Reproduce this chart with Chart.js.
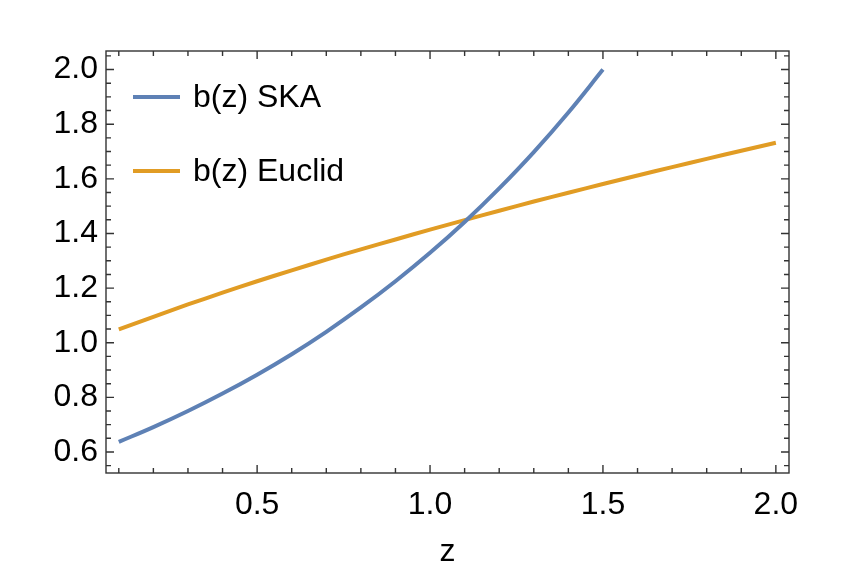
<!DOCTYPE html>
<html>
<head>
<meta charset="utf-8">
<script src="https://cdn.jsdelivr.net/npm/chart.js@4.4.1/dist/chart.umd.min.js"></script>
<style>
  body { margin: 0; background: #fff; }
  #wrap { width: 843px; height: 571px; }
</style>
</head>
<body>
<div id="wrap"><canvas id="myChart" width="843" height="571"></canvas></div>
<script>
// values
const zSKA = [0.1, 0.2, 0.3, 0.4, 0.5, 0.6, 0.7, 0.8, 0.9, 1.0, 1.1, 1.2, 1.3, 1.4, 1.5]
const bSKA = [0.637, 0.691, 0.750, 0.814, 0.883, 0.958, 1.040, 1.129, 1.225, 1.329, 1.442, 1.565, 1.698, 1.843, 2.000]
const zEuclid = [0.1, 0.2, 0.3, 0.4, 0.5, 0.6, 0.7, 0.8, 0.9, 1.0, 1.1, 1.2, 1.3, 1.4, 1.5, 1.6, 1.7, 1.8, 1.9, 2.0]
const bEuclid = [1.049, 1.095, 1.140, 1.183, 1.225, 1.265, 1.304, 1.342, 1.378, 1.414, 1.449, 1.483, 1.517, 1.549, 1.581, 1.612, 1.643, 1.673, 1.703, 1.732]
const xTicks = [0.5, 1.0, 1.5, 2.0]
const yTicks = [0.6, 0.8, 1.0, 1.2, 1.4, 1.6, 1.8, 2.0]

const FONT = '"Liberation Sans", Arial, sans-serif'
const frameColor = '#333333'

const toPts = (xs, ys) => xs.map((x, i) => ({x: x, y: ys[i]}))

// frame with inward ticks on all four sides, plus legend inside the plot
const framePlugin = {
  id: 'frame',
  afterDatasetsDraw(chart) {
    const {ctx, chartArea: a, scales} = chart
    const xs = scales.x, ys = scales.y
    ctx.save()
    ctx.strokeStyle = frameColor
    ctx.lineWidth = 1.4
    ctx.strokeRect(a.left, a.top, a.right - a.left, a.bottom - a.top)
    ctx.beginPath()
    for (let i = 1; i <= 20; i++) {
      const v = i / 10
      const px = xs.getPixelForValue(v)
      if (px < a.left || px > a.right) continue
      const len = (i % 5 === 0) ? 8 : 5
      ctx.moveTo(px, a.bottom); ctx.lineTo(px, a.bottom - len)
      ctx.moveTo(px, a.top); ctx.lineTo(px, a.top + len)
    }
    for (let i = 10; i <= 41; i++) {
      const v = i / 20
      const py = ys.getPixelForValue(v)
      if (py < a.top || py > a.bottom) continue
      const len = (i % 4 === 0) ? 8 : 5
      ctx.moveTo(a.left, py); ctx.lineTo(a.left + len, py)
      ctx.moveTo(a.right, py); ctx.lineTo(a.right - len, py)
    }
    ctx.stroke()

    // legend
    ctx.font = '32px ' + FONT
    ctx.textBaseline = 'middle'
    ctx.fillStyle = '#000'
    chart.data.datasets.forEach((ds, i) => {
      const y = a.top + 46 + i * 74
      ctx.strokeStyle = ds.borderColor
      ctx.lineWidth = 4
      ctx.beginPath()
      ctx.moveTo(a.left + 27, y); ctx.lineTo(a.left + 74, y)
      ctx.stroke()
      ctx.fillText(ds.label, a.left + 87, y + 1)
    })
    ctx.restore()
  }
}

new Chart(document.getElementById('myChart'), {
  type: 'line',
  data: {
    datasets: [
      {
        label: 'b(z) SKA',
        data: toPts(zSKA, bSKA),
        borderColor: '#5E81B5',
        borderWidth: 4,
        pointRadius: 0,
        tension: 0.4,
        fill: false
      },
      {
        label: 'b(z) Euclid',
        data: toPts(zEuclid, bEuclid),
        borderColor: '#E19C24',
        borderWidth: 4,
        pointRadius: 0,
        tension: 0.4,
        fill: false
      }
    ]
  },
  options: {
    responsive: false,
    animation: false,
    layout: { padding: { top: 51, right: 54, left: 0, bottom: 0 } },
    plugins: { legend: { display: false }, tooltip: { enabled: false } },
    scales: {
      x: {
        type: 'linear',
        min: 0.063,
        max: 2.038,
        afterBuildTicks: (s) => { s.ticks = xTicks.map(v => ({value: v})) },
        afterFit: (s) => { s.height = 98 },
        grid: { display: false, drawTicks: false },
        border: { display: false },
        ticks: {
          color: '#000',
          font: { family: FONT, size: 32 },
          padding: 13,
          maxRotation: 0,
          callback: (v) => v.toFixed(1)
        },
        title: {
          display: true,
          text: 'z',
          color: '#000',
          font: { family: FONT, size: 32 },
          padding: { top: 8, bottom: 0 }
        }
      },
      y: {
        min: 0.523,
        max: 2.068,
        afterBuildTicks: (s) => { s.ticks = yTicks.map(v => ({value: v})) },
        afterFit: (s) => { s.width = 106 },
        grid: { display: false, drawTicks: false },
        border: { display: false },
        ticks: {
          color: '#000',
          font: { family: FONT, size: 32 },
          padding: 8,
          callback: (v) => v.toFixed(1)
        }
      }
    }
  },
  plugins: [framePlugin]
})
</script>
</body>
</html>
